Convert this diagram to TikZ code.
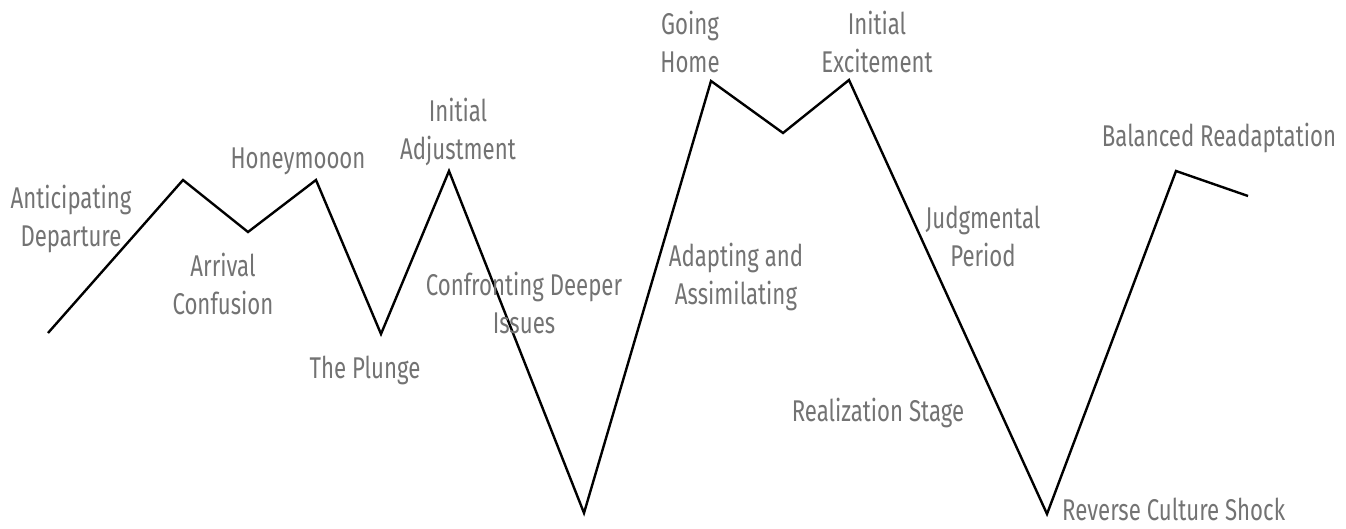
\documentclass[tikz,border=0pt]{standalone}
\usepackage{fontspec}
\setmainfont{Fira Sans}[FakeStretch=0.74]
\usepackage{xcolor}
\definecolor{txt}{HTML}{737373}

\begin{document}
\begin{tikzpicture}[x=1pt,y=-1pt,line join=miter]
\tikzstyle{stage}=[text=txt, align=center, inner sep=0pt, anchor=base, font=\fontsize{30}{38}\selectfont]
\tikzstyle{curve}=[line width=2.4pt, black]

	\useasboundingbox (0,0) rectangle (1346,529);

	% points of the curve
	\coordinate (p1) at (48,333);
	\coordinate (p2) at (183,180);
	\coordinate (p3) at (248,232);
	\coordinate (p4) at (316,180);
	\coordinate (p5) at (381,334);
	\coordinate (p6) at (449,171);
	\coordinate (p7) at (584,513);
	\coordinate (p8) at (711,81);
	\coordinate (p9) at (783,133);
	\coordinate (p10) at (849,80);
	\coordinate (p11) at (1047,514);
	\coordinate (p12) at (1176,171);
	\coordinate (p13) at (1248,196);

	\draw[curve] (p1) -- (p2) -- (p3) -- (p4) -- (p5) -- (p6) -- (p7)
		-- (p8) -- (p9) -- (p10) -- (p11) -- (p12) -- (p13);

	% stage labels (base = last line)
	\node[stage] (depart)  at (71,247)  {Anticipating\\Departure};
	\node[stage] (arrival) at (223,314) {Arrival\\Confusion};
	\node[stage] (honey)   at (298,169) {Honeymooon};
	\node[stage] (plunge)  at (365,378) {The Plunge};
	\node[stage] (adjust)  at (458,160) {Initial\\Adjustment};
	\node[stage] (deeper)  at (524,333) {Confronting Deeper\\Issues};
	\node[stage] (adapt)   at (736,304) {Adapting and\\Assimilating};
	\node[stage] (home)    at (690,73)  {Going\\Home};
	\node[stage] (excite)  at (877,73)  {Initial\\Excitement};
	\node[stage] (judge)   at (983,266) {Judgmental\\Period};
	\node[stage] (realize) at (878,421) {Realization Stage};
	\node[stage, anchor=base west] (reverse) at (1062,520) {Reverse Culture Shock};
	\node[stage] (balance) at (1219,147) {Balanced Readaptation};
\end{tikzpicture}
\end{document}
